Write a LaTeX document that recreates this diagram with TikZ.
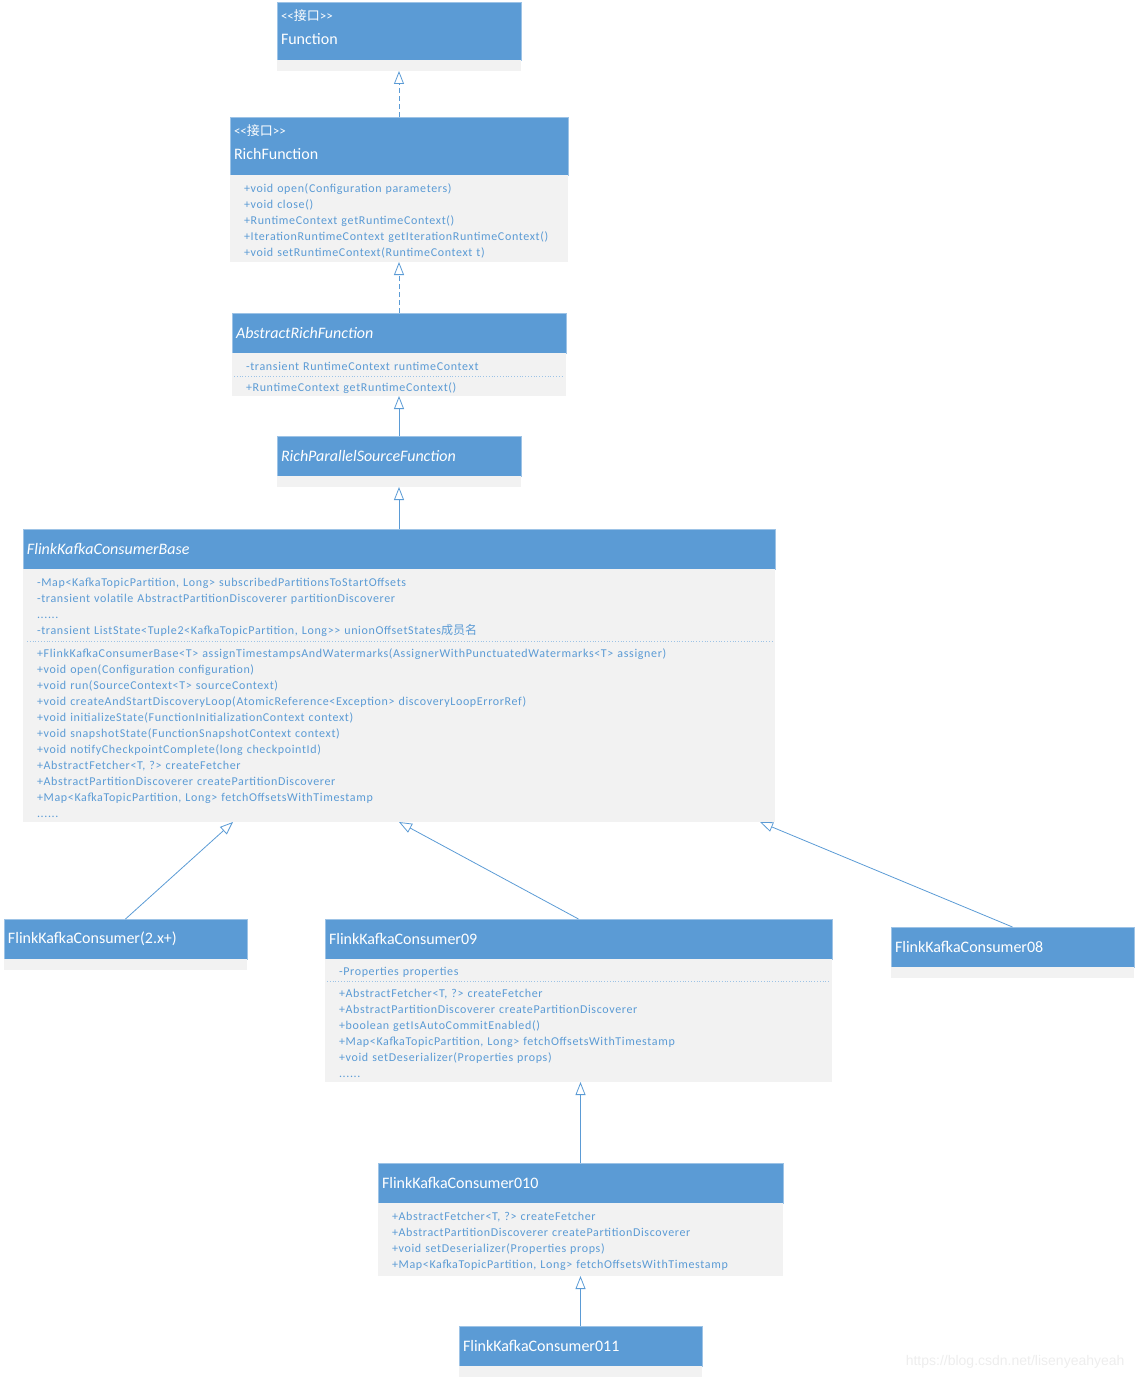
\documentclass[tikz,border=0pt]{standalone}
\usepackage{fontspec}
\setmainfont{Carlito}
\newfontfamily\memberfont{Carlito}[LetterSpace=5.4]
\newfontfamily\cjk{Noto Sans CJK SC}
\newfontfamily\markfont{Liberation Sans}
\usepackage{xcolor}
\usetikzlibrary{arrows.meta,positioning}

\definecolor{umlblue}{HTML}{5B9BD5}
\definecolor{umlgray}{HTML}{F2F2F2}
\definecolor{umledge}{HTML}{9DC3E6}

\begin{document}
\begin{tikzpicture}[
    x=1pt, y=-1pt,
    headbox/.style={rectangle, draw=umledge, line width=0.5pt, fill=umlblue, text=white, align=left, inner xsep=4pt, inner ysep=0pt, outer sep=0pt, minimum height=40pt, font=\fontsize{16}{24}\selectfont},
    abstracthead/.style={headbox, font=\fontsize{16}{24}\selectfont\itshape},
    stripbox/.style={rectangle, fill=umlgray, inner sep=0pt, outer sep=0pt, minimum height=11pt, minimum width=#1},
    memberbox/.style={rectangle, fill=umlgray, text=umlblue, align=left, inner xsep=14pt, inner ysep=1pt, outer sep=0pt, text height=13pt, minimum height=#1, font=\memberfont\fontsize{12}{16}\selectfont},
    sepline/.style={draw=umledge, dotted, line width=0.8pt},
    inherit/.style={draw=umlblue, line width=0.8pt, -{Triangle[open, length=13pt, width=10pt]}},
    realize/.style={inherit, dash pattern=on 5pt off 3pt}
]
\useasboundingbox (0,0) rectangle (1136,1380);

% Nodes
\node[headbox, text width=236pt, minimum height=58pt, text depth=32pt, anchor=north west] (fnhead) at (277,2) {{\fontsize{13}{14}\selectfont <{}<{\cjk 接口}>{}>}\\Function};
\node[stripbox=244pt, below=0pt of fnhead] (fnbody) {};

\node[headbox, text width=330pt, minimum height=58pt, text depth=32pt, below=46pt of fnbody] (richhead) {{\fontsize{13}{14}\selectfont <{}<{\cjk 接口}>{}>}\\RichFunction};
\node[memberbox=87pt, text width=310pt, below=0pt of richhead] (richops) {+void open(Configuration parameters)\\+void close()\\+RuntimeContext getRuntimeContext()\\+IterationRuntimeContext getIterationRuntimeContext()\\+void setRuntimeContext(RuntimeContext t)};

\node[abstracthead, text width=326pt, below=51pt of richops] (arfhead) {AbstractRichFunction};
\node[memberbox=23pt, text width=306pt, below=0pt of arfhead] (arfattr) {-transient RuntimeContext runtimeContext};
\node[memberbox=20pt, text width=306pt, below=0pt of arfattr] (arfops) {+RuntimeContext getRuntimeContext()};

\node[abstracthead, text width=236pt, below=40pt of arfops] (rpsfhead) {RichParallelSourceFunction};
\node[stripbox=244pt, below=0pt of rpsfhead] (rpsfbody) {};

\node[abstracthead, text width=744pt, below=42pt of rpsfbody] (basehead) {FlinkKafkaConsumerBase};
\node[memberbox=72pt, text width=724pt, below=0pt of basehead] (baseattr) {-Map<KafkaTopicPartition, Long> subscribedPartitionsToStartOffsets\\-transient volatile AbstractPartitionDiscoverer partitionDiscoverer\\......\\-transient ListState<Tuple2<KafkaTopicPartition, Long>{}> unionOffsetStates{\cjk 成员名}};
\node[memberbox=181pt, text width=724pt, below=0pt of baseattr] (baseops) {+FlinkKafkaConsumerBase<T> assignTimestampsAndWatermarks(AssignerWithPunctuatedWatermarks<T> assigner)\\+void open(Configuration configuration)\\+void run(SourceContext<T> sourceContext)\\+void createAndStartDiscoveryLoop(AtomicReference<Exception> discoveryLoopErrorRef)\\+void initializeState(FunctionInitializationContext context)\\+void snapshotState(FunctionSnapshotContext context)\\+void notifyCheckpointComplete(long checkpointId)\\+AbstractFetcher<T, ?> createFetcher\\+AbstractPartitionDiscoverer createPartitionDiscoverer\\+Map<KafkaTopicPartition, Long> fetchOffsetsWithTimestamp\\......};

\node[headbox, text width=499pt, below=97pt of baseops, xshift=179.5pt] (c09head) {FlinkKafkaConsumer09};
\node[memberbox=22pt, text width=479pt, below=0pt of c09head] (c09attr) {-Properties properties};
\node[memberbox=101pt, text width=479pt, below=0pt of c09attr] (c09ops) {+AbstractFetcher<T, ?> createFetcher\\+AbstractPartitionDiscoverer createPartitionDiscoverer\\+boolean getIsAutoCommitEnabled()\\+Map<KafkaTopicPartition, Long> fetchOffsetsWithTimestamp\\+void setDeserializer(Properties props)\\......};

\node[headbox, text width=235pt, left=78pt of c09head] (c2xhead) {FlinkKafkaConsumer(2.x+)};
\node[stripbox=243pt, below=0pt of c2xhead] (c2xbody) {};

\node[headbox, text width=235pt, right=59pt of c09head, yshift=-8pt] (c08head) {FlinkKafkaConsumer08};
\node[stripbox=243pt, below=0pt of c08head] (c08body) {};

\node[headbox, text width=397pt, below=81pt of c09ops, xshift=2pt] (c010head) {FlinkKafkaConsumer010};
\node[memberbox=73pt, text width=377pt, below=0pt of c010head] (c010ops) {+AbstractFetcher<T, ?> createFetcher\\+AbstractPartitionDiscoverer createPartitionDiscoverer\\+void setDeserializer(Properties props)\\+Map<KafkaTopicPartition, Long> fetchOffsetsWithTimestamp};

\node[headbox, text width=235pt, below=50pt of c010ops] (c011head) {FlinkKafkaConsumer011};
\node[stripbox=243pt, below=0pt of c011head] (c011body) {};

\node[anchor=east, text=black!7, font=\markfont\fontsize{14}{16}\selectfont] (mark) at (1128,1362) {https://blog.csdn.net/lisenyeahyeah};

% Separators
\draw[sepline] ([xshift=2pt]arfattr.south west) -- ([xshift=-2pt]arfattr.south east);
\draw[sepline] ([xshift=4pt]baseattr.south west) -- ([xshift=-2pt]baseattr.south east);
\draw[sepline] ([xshift=2pt]c09attr.south west) -- ([xshift=-2pt]c09attr.south east);

% Edges
\draw[realize] (richhead) -- (fnbody);
\draw[realize] (arfhead) -- (richops);
\draw[inherit] (rpsfhead) -- (arfops);
\draw[inherit] (basehead) -- (rpsfbody);
\draw[inherit] (c2xhead.north) -- ([xshift=-166pt]baseops.south);
\draw[inherit] (c09head.north) -- (baseops.south);
\draw[inherit] (c08head.north) -- ([xshift=361pt]baseops.south);
\draw[inherit] (c010head.north) -- (c010head.north |- c09ops.south);
\draw[inherit] (c011head) -- (c010ops);

\end{tikzpicture}
\end{document}
